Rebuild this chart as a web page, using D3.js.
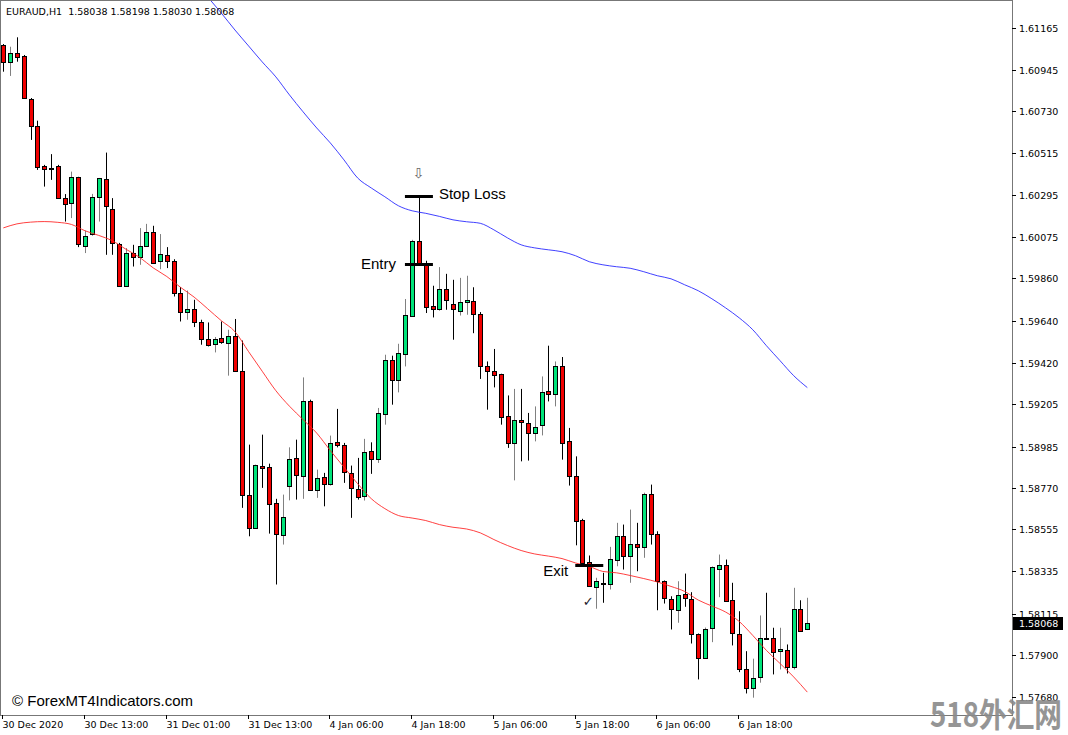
<!DOCTYPE html>
<html><head><meta charset="utf-8">
<script src="https://cdn.jsdelivr.net/npm/d3@7"></script>
<style>
html,body{margin:0;padding:0;background:#fff;}
svg{display:block;}
</style></head><body>
<svg id="c" width="1068" height="735"></svg>
<script>
// ---- data (EURAUD H1) ----
const opens = [
1.61075,1.60988,1.61032,1.61018,1.60794,1.60655,1.60447,1.60435,1.60446,1.60278,
1.60252,1.60387,1.60030,1.60092,1.60283,1.60377,1.60222,1.60040,1.59823,1.59992,
1.59971,1.60031,1.60101,1.59949,1.59980,1.59952,1.59784,1.59685,1.59701,1.59633,
1.59545,1.59519,1.59550,1.59524,1.59563,1.59376,1.58731,1.58562,1.58882,1.58879,
1.58692,1.58527,1.58782,1.58926,1.58834,1.59224,1.58757,1.58827,1.58791,1.59007,
1.58995,1.58848,1.58766,1.58726,1.58960,1.58921,1.59156,1.59437,1.59329,1.59468,
1.59667,1.60056,1.59940,1.59714,1.59701,1.59806,1.59727,1.59688,1.59737,1.59745,
1.59676,1.59402,1.59380,1.59363,1.59146,1.59004,1.59123,1.59108,1.59056,1.59099,
1.59272,1.59259,1.59402,1.59012,1.58834,1.58601,1.58383,1.58255,1.58275,1.58272,
1.58395,1.58520,1.58418,1.58479,1.58463,1.58739,1.58532,1.58284,1.58194,1.58133,
1.58219,1.58193,1.58011,1.57886,1.58042,1.58350,1.58367,1.58184,1.58011,1.57825,
1.57728,1.57787,1.57988,1.57990,1.57919,1.57925,1.57839,1.58137,1.58038];
const highs = [
1.61080,1.61066,1.61115,1.61023,1.60799,1.60681,1.60451,1.60507,1.60451,1.60299,
1.60416,1.60389,1.60109,1.60300,1.60383,1.60515,1.60278,1.60045,1.60018,1.60035,
1.60122,1.60144,1.60134,1.60091,1.60023,1.59960,1.59815,1.59797,1.59749,1.59645,
1.59631,1.59555,1.59636,1.59593,1.59649,1.59537,1.58995,1.58891,1.59047,1.58896,
1.58713,1.58735,1.58981,1.59021,1.59345,1.59229,1.58865,1.58848,1.59042,1.59181,
1.59004,1.58886,1.58926,1.59025,1.59007,1.59186,1.59463,1.59458,1.59520,1.59753,
1.60061,1.60290,1.59952,1.59822,1.59919,1.59884,1.59853,1.59863,1.59874,1.59814,
1.59685,1.59428,1.59493,1.59364,1.59251,1.59285,1.59285,1.59160,1.59194,1.59350,
1.59510,1.59428,1.59451,1.59082,1.58934,1.58609,1.58418,1.58302,1.58328,1.58463,
1.58588,1.58579,1.58657,1.58588,1.58745,1.58787,1.58544,1.58288,1.58206,1.58284,
1.58324,1.58227,1.58012,1.58043,1.58361,1.58423,1.58397,1.58276,1.58128,1.57920,
1.57881,1.58106,1.58224,1.58042,1.58042,1.57955,1.58250,1.58185,1.58198];
const lows = [
1.60936,1.60914,1.60988,1.60794,1.60581,1.60425,1.60338,1.60373,1.60274,1.60156,
1.60174,1.60023,1.59992,1.60082,1.60156,1.59983,1.59983,1.59822,1.59822,1.59922,
1.59931,1.60030,1.59938,1.59908,1.59914,1.59766,1.59636,1.59645,1.59607,1.59515,
1.59506,1.59475,1.59520,1.59354,1.59375,1.58666,1.58518,1.58558,1.58770,1.58532,
1.58267,1.58475,1.58705,1.58709,1.58713,1.58756,1.58718,1.58674,1.58782,1.58981,
1.58796,1.58614,1.58709,1.58704,1.58843,1.58900,1.59099,1.59203,1.59267,1.59402,
1.59666,1.59934,1.59680,1.59657,1.59692,1.59697,1.59541,1.59667,1.59671,1.59575,
1.59337,1.59177,1.59293,1.59099,1.58978,1.58809,1.58908,1.58912,1.59012,1.59043,
1.59220,1.59194,1.58917,1.58782,1.58471,1.58378,1.58257,1.58141,1.58172,1.58241,
1.58362,1.58345,1.58276,1.58336,1.58406,1.58475,1.58133,1.58168,1.58033,1.58068,
1.58151,1.57960,1.57773,1.57882,1.57967,1.58201,1.58179,1.57950,1.57811,1.57700,
1.57678,1.57756,1.57981,1.57799,1.57825,1.57804,1.57825,1.58023,1.58030];
const closes = [
1.60985,1.61032,1.61011,1.60798,1.60655,1.60442,1.60429,1.60432,1.60278,1.60248,
1.60387,1.60039,1.60083,1.60283,1.60382,1.60239,1.60044,1.59823,1.59992,1.59971,
1.60030,1.60101,1.59940,1.59987,1.59951,1.59784,1.59685,1.59701,1.59631,1.59545,
1.59513,1.59545,1.59529,1.59563,1.59376,1.58731,1.58562,1.58887,1.58872,1.58687,
1.58532,1.58617,1.58921,1.58839,1.59224,1.58757,1.58822,1.58791,1.59004,1.58991,
1.58853,1.58770,1.58721,1.58957,1.58921,1.59160,1.59437,1.59329,1.59472,1.59671,
1.60057,1.59935,1.59711,1.59702,1.59805,1.59749,1.59702,1.59736,1.59749,1.59676,
1.59402,1.59380,1.59359,1.59139,1.59004,1.59121,1.59111,1.59056,1.59087,1.59269,
1.59259,1.59402,1.59004,1.58834,1.58596,1.58380,1.58258,1.58284,1.58273,1.58401,
1.58520,1.58418,1.58479,1.58463,1.58740,1.58532,1.58284,1.58198,1.58137,1.58211,
1.58198,1.58011,1.57886,1.58038,1.58357,1.58367,1.58180,1.58016,1.57829,1.57728,
1.57782,1.57990,1.57985,1.57915,1.57929,1.57839,1.58137,1.58024,1.58068];

const redMaBars = [0,2,4,6,8,10,12,14,16,18,20,22,24,26,28,30,32,34,36,38,40,42,44,46,48,50,52,54,56,58,60,62,64,66,68,70,72,74,76,78,80,82,84,86,88,90,92,94,96,98,100,102,104,106,108,110,112,114,116,118];
const redMaValues = [
1.60123,1.60144,1.60153,1.60156,1.60152,1.60141,1.60108,1.60084,1.60056,1.60012,
1.59970,1.59915,1.59870,1.59814,1.59763,1.59702,1.59640,1.59583,1.59479,1.59377,
1.59276,1.59195,1.59125,1.59055,1.58964,1.58878,1.58792,1.58714,1.58662,1.58626,
1.58613,1.58600,1.58579,1.58565,1.58556,1.58536,1.58501,1.58470,1.58444,1.58426,
1.58415,1.58402,1.58379,1.58361,1.58335,1.58328,1.58314,1.58298,1.58280,1.58257,
1.58231,1.58186,1.58155,1.58124,1.58075,1.58002,1.57924,1.57856,1.57786,1.57707];
const blueMaBars = [28,30,32,34,36,38,40,42,44,46,48,50,52,54,56,58,60,62,64,66,68,70,72,74,76,78,80,82,84,86,88,90,92,94,96,98,100,102,104,106,108,110,112,114,116,118];
const blueMaValues = [
1.61413,1.61325,1.61241,1.61153,1.61070,1.60987,1.60909,1.60815,1.60727,1.60643,
1.60565,1.60477,1.60383,1.60331,1.60285,1.60238,1.60212,1.60199,1.60183,1.60165,
1.60155,1.60147,1.60113,1.60071,1.60035,1.60019,1.60009,1.59999,1.59978,1.59947,
1.59931,1.59921,1.59913,1.59895,1.59874,1.59858,1.59827,1.59796,1.59754,1.59707,
1.59655,1.59593,1.59510,1.59432,1.59354,1.59292];

const priceTicks = [1.61165,1.60945,1.60730,1.60515,1.60295,1.60075,1.59860,1.59640,1.59420,1.59205,1.58985,1.58770,1.58555,1.58335,1.58115,1.57900,1.57680];
const timeLabels = ["30 Dec 2020","30 Dec 13:00","31 Dec 01:00","31 Dec 13:00","4 Jan 06:00","4 Jan 18:00","5 Jan 06:00","5 Jan 18:00","6 Jan 06:00","6 Jan 18:00"];
const timeLabelBars = [0,12,24,36,48,60,72,84,96,108];

const symbolTitle = "EURAUD,H1";
const stopLossPrice = 1.60290, entryPrice = 1.59935, exitPrice = 1.58366;
const signalBar = 61, exitBar = 86;

// ---- drawing ----
const W = 1068, H = 735;
const plotR = 1012, plotB = 715;
const svg = d3.select("#c");
const n = opens.length;
const x = d3.scaleLinear().domain([0, n - 1]).range([3.3, 807.3]);
const y = d3.scaleLinear().domain([1.57680, 1.61165]).range([697.3, 27.7]);
const fmt = d3.format(".5f");
const AX = "DejaVu Sans, Verdana, sans-serif";
const AXS = 9.5;
const TX = "Liberation Sans, Arial, sans-serif";

svg.append("rect").attr("width", W).attr("height", H).attr("fill", "#fff");
svg.append("defs").append("clipPath").attr("id", "clip")
  .append("rect").attr("x", 1).attr("y", 1).attr("width", plotR - 1).attr("height", plotB - 1);

const g = svg.append("g").attr("clip-path", "url(#clip)");

// candles
const bars = d3.range(n).map(i => ({i, o: opens[i], h: highs[i], l: lows[i], c: closes[i]}));
const cx = i => Math.round(x(i)) + 0.5;
g.selectAll("line.wick").data(bars).join("line")
  .attr("x1", d => cx(d.i)).attr("x2", d => cx(d.i))
  .attr("y1", d => y(d.h)).attr("y2", d => y(d.l))
  .attr("stroke", d => d.c >= d.o ? "#808080" : "#000").attr("stroke-width", 1);
g.selectAll("rect.body").data(bars).join("rect")
  .attr("x", d => cx(d.i) - 2).attr("width", 4)
  .attr("y", d => Math.round(y(Math.max(d.o, d.c))) + 0.5)
  .attr("height", d => Math.max(1, Math.round(y(Math.min(d.o, d.c))) - Math.round(y(Math.max(d.o, d.c)))))
  .attr("fill", d => d.c >= d.o ? "#00e47a" : "#f00000")
  .attr("stroke", "#000").attr("stroke-width", 1);

// moving averages
const line = d3.line().x(d => x(d[0])).y(d => y(d[1])).curve(d3.curveMonotoneX);
g.append("path").datum(redMaBars.map((b, k) => [b, redMaValues[k]]))
  .attr("d", line).attr("fill", "none").attr("stroke", "#ff2020").attr("stroke-width", 1).attr("opacity", 0.85);
g.append("path").datum(blueMaBars.map((b, k) => [b, blueMaValues[k]]))
  .attr("d", line).attr("fill", "none").attr("stroke", "#2020ff").attr("stroke-width", 1).attr("opacity", 0.85);

// trade annotations
const ann = svg.append("g");
[[stopLossPrice, signalBar], [entryPrice, signalBar], [exitPrice, exitBar]].forEach(([p, b]) => {
  ann.append("line").attr("x1", x(b) - 14).attr("x2", x(b) + 14)
    .attr("y1", Math.round(y(p)) + 0.5).attr("y2", Math.round(y(p)) + 0.5)
    .attr("stroke", "#000").attr("stroke-width", 3);
});
ann.append("text").attr("x", x(signalBar) + 20).attr("y", y(stopLossPrice) + 3)
  .attr("font-family", TX).attr("font-size", 15).attr("fill", "#000").text("Stop Loss");
ann.append("text").attr("x", x(signalBar) - 23).attr("y", y(entryPrice) + 5).attr("text-anchor", "end")
  .attr("font-family", TX).attr("font-size", 15).attr("fill", "#000").text("Entry");
ann.append("text").attr("x", x(exitBar) - 21).attr("y", y(exitPrice) + 11).attr("text-anchor", "end")
  .attr("font-family", TX).attr("font-size", 15).attr("fill", "#000").text("Exit");
ann.append("text").attr("x", x(signalBar) - 0.5).attr("y", y(stopLossPrice) - 18).attr("text-anchor", "middle")
  .attr("font-family", AX).attr("font-size", 14).attr("fill", "#666").text("\u21E9");
ann.append("text").attr("x", x(exitBar) - 1).attr("y", y(lows[exitBar + 1]) - 3).attr("text-anchor", "middle")
  .attr("font-family", AX).attr("font-size", 13).attr("fill", "#1a1a2e").text("\u2713");

// frame
svg.append("rect").attr("x", 0.5).attr("y", 0.5).attr("width", plotR).attr("height", plotB)
  .attr("fill", "none").attr("stroke", "#777").attr("stroke-width", 1);

// price axis
const ya = svg.append("g");
priceTicks.forEach(p => {
  const yy = Math.round(y(p)) + 0.5;
  ya.append("line").attr("x1", plotR).attr("x2", plotR + 4).attr("y1", yy).attr("y2", yy).attr("stroke", "#000");
  ya.append("text").attr("x", plotR + 7).attr("y", yy + 3.5).attr("font-family", AX).attr("font-size", AXS)
    .attr("fill", "#000").text(fmt(p));
});
const lp = closes[n - 1];
ya.append("rect").attr("x", plotR + 1).attr("y", Math.round(y(lp)) - 6).attr("width", 50).attr("height", 13).attr("fill", "#000");
ya.append("text").attr("x", plotR + 7).attr("y", Math.round(y(lp)) + 4).attr("font-family", AX).attr("font-size", AXS)
  .attr("fill", "#fff").text(fmt(lp));

// time axis
const xa = svg.append("g");
timeLabelBars.forEach((b, k) => {
  const xx = Math.round(x(b)) - 0.5;
  xa.append("line").attr("x1", xx).attr("x2", xx).attr("y1", plotB).attr("y2", plotB + 4).attr("stroke", "#000");
  xa.append("text").attr("x", xx).attr("y", plotB + 13).attr("font-family", AX).attr("font-size", AXS)
    .attr("fill", "#000").text(timeLabels[k]);
});

// header
svg.append("text").attr("x", 6).attr("y", 15).attr("font-family", AX).attr("font-size", AXS).attr("fill", "#000")
  .attr("xml:space", "preserve")
  .text(symbolTitle + "  " + [opens[n-1], highs[n-1], lows[n-1], closes[n-1]].map(fmt).join(" "));

// copyright
svg.append("text").attr("x", 12).attr("y", 706).attr("font-family", TX).attr("font-size", 15).attr("fill", "#000")
  .text("\u00A9 ForexMT4Indicators.com");

// watermark
svg.append("text").attr("x", 930).attr("y", 727).attr("font-family", "Noto Sans CJK SC, sans-serif")
  .attr("font-weight", "bold").attr("font-size", 33).attr("fill", "#8a8a8a").attr("opacity", 0.9)
  .attr("textLength", 132).attr("lengthAdjust", "spacingAndGlyphs").text("518外汇网");
</script>
</body></html>
